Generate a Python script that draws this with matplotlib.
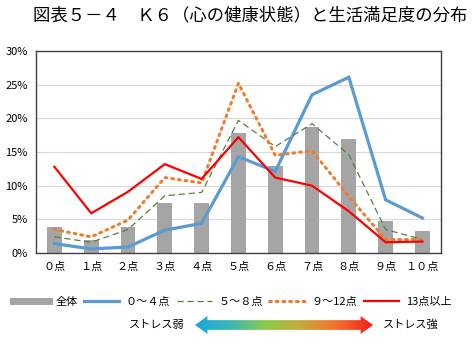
import matplotlib
matplotlib.use("Agg")
import matplotlib.pyplot as plt
import numpy as np
from matplotlib.lines import Line2D
from matplotlib.patches import Polygon
from matplotlib.colors import LinearSegmentedColormap

plt.rcParams["font.family"] = ["Noto Sans CJK JP", "DejaVu Sans"]

categories = ["０点", "１点", "２点", "３点", "４点", "５点", "６点", "７点", "８点", "９点", "１０点"]
total = [3.9, 2.0, 3.8, 7.4, 7.5, 17.8, 12.9, 18.7, 16.9, 4.8, 3.3]
k0_4 = [1.4, 0.6, 0.9, 3.4, 4.4, 14.3, 12.1, 23.5, 26.1, 7.9, 5.2]
k5_8 = [2.4, 1.6, 3.5, 8.5, 9.0, 19.7, 15.8, 19.2, 14.6, 3.5, 2.0]
k9_12 = [3.5, 2.4, 4.9, 11.2, 10.4, 25.2, 14.5, 15.2, 8.4, 2.0, 2.0]
k13 = [12.8, 5.9, 9.1, 13.2, 11.0, 17.2, 11.2, 10.0, 6.2, 1.6, 1.7]
series_labels = ["全体", "０～４点", "５～８点", "９～12点", "13点以上"]
yticks = [0, 5, 10, 15, 20, 25, 30]

fig = plt.figure(figsize=(4.74, 3.49), dpi=100)
ax = fig.add_axes([0.076, 0.275, 0.854, 0.579])

x = np.arange(len(categories))
ax.bar(x, total, width=0.4, color="#a5a5a5", zorder=2)
ax.plot(x, k0_4, color="#5b9bd5", lw=2.3, zorder=3, solid_joinstyle="miter")
ax.plot(x, k5_8, color="#548235", lw=0.9, ls=(0, (5, 3)), zorder=3)
ax.plot(x, k9_12, color="#ed7d31", lw=2.2, ls=(0, (0.6, 1.6)),
        dash_capstyle="round", zorder=3)
ax.plot(x, k13, color="#ff0000", lw=1.6, zorder=4)

ax.set_xlim(-0.5, len(categories) - 0.5)
ax.set_ylim(0, 30)
ax.set_yticks(yticks)
ax.set_yticklabels([f"{v}%" for v in yticks], fontsize=8, fontstretch="condensed")
ax.set_xticks(x)
ax.set_xticklabels(categories, fontsize=8)
ax.tick_params(length=0, pad=6)
ax.grid(axis="y", color="#d9d9d9", lw=0.8, zorder=0)
ax.set_axisbelow(True)
for s in ax.spines.values():
    s.set_color("#404040")
    s.set_linewidth(1.0)

fig.text(0.528, 0.955, "図表５－４　Ｋ６（心の健康状態）と生活満足度の分布",
         ha="center", va="center", fontsize=12.5)

handles = [
    Line2D([], [], color="#a5a5a5", lw=5),
    Line2D([], [], color="#5b9bd5", lw=2.3),
    Line2D([], [], color="#548235", lw=0.9, ls=(0, (5, 3))),
    Line2D([], [], color="#ed7d31", lw=2.2, ls=(0, (0.6, 1.6)), dash_capstyle="round"),
    Line2D([], [], color="#ff0000", lw=1.6),
]
fig.legend(handles, series_labels, loc="center", bbox_to_anchor=(0.49, 0.135),
           ncol=5, frameon=False, fontsize=8, handlelength=3.2,
           handletextpad=0.6, columnspacing=0.55)

# gradient double arrow
aax = fig.add_axes([195 / 474, (349 - 334) / 349, 178 / 474, 18 / 349])
aax.set_xlim(0, 1)
aax.set_ylim(0, 1)
aax.axis("off")
cmap = LinearSegmentedColormap.from_list(
    "stress", ["#17a8e3", "#3bb8b0", "#8ccc46", "#c9a83a", "#f3702a", "#f31c1c"])
grad = np.linspace(0, 1, 256).reshape(1, -1)
img = aax.imshow(grad, extent=[0, 1, 0, 1], aspect="auto", cmap=cmap)
h = 0.07
arrow = Polygon([(0, 0.5), (h, 1.0), (h, 0.77), (1 - h, 0.77), (1 - h, 1.0),
                 (1, 0.5), (1 - h, 0.0), (1 - h, 0.23), (h, 0.23), (h, 0.0)],
                closed=True, transform=aax.transData, facecolor="none", edgecolor="none")
aax.add_patch(arrow)
img.set_clip_path(arrow)

fig.text(185 / 474, (349 - 325) / 349, "ストレス弱", ha="right", va="center", fontsize=8)
fig.text(383 / 474, (349 - 325) / 349, "ストレス強", ha="left", va="center", fontsize=8)

fig.savefig("out.png", dpi=100)
